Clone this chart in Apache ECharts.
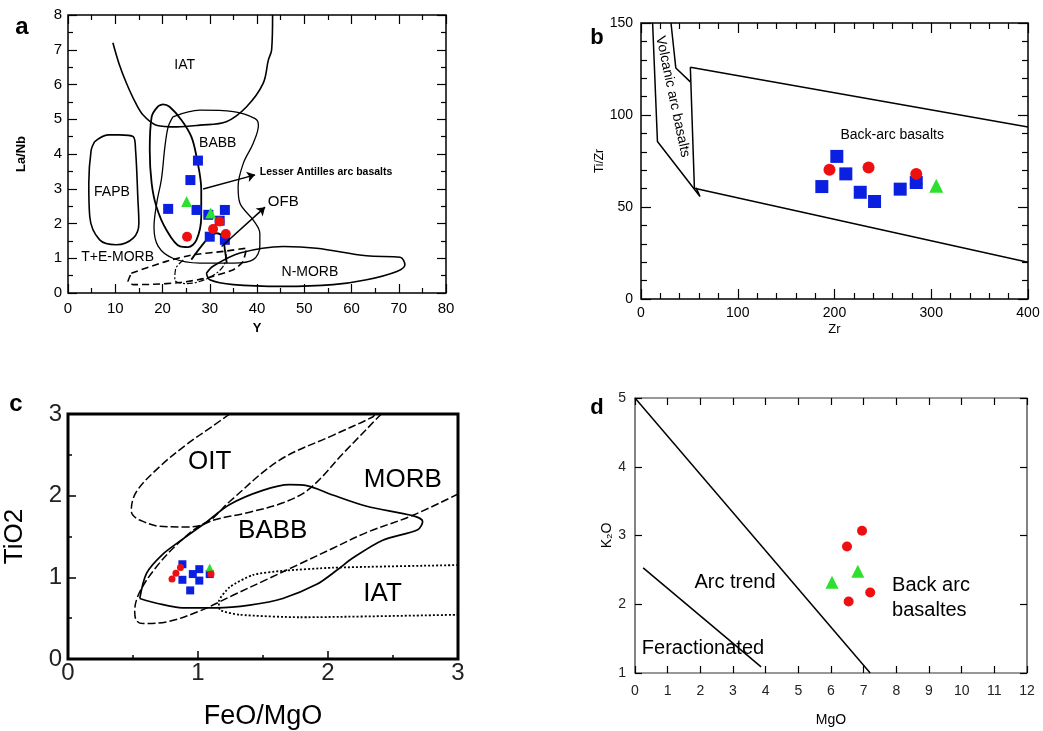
<!DOCTYPE html>
<html>
<head>
<meta charset="utf-8">
<script src="https://cdn.jsdelivr.net/npm/echarts@6/dist/echarts.min.js"></script>
<style>
  html, body { margin: 0; padding: 0; background: #fff; }
  #chart { width: 1043px; height: 731px; }
</style>
</head>
<body>
<div id="chart"></div>
<script>
// ---------- panel a : La/Nb vs Y ----------
const aSquares = [[27.5, 3.81], [25.9, 3.25], [21.2, 2.42], [27.2, 2.39], [29.7, 2.25], [33.2, 2.39], [32.1, 2.08], [30.0, 1.62], [33.2, 1.53]];
const aCircles = [[25.2, 1.62], [30.7, 1.84], [32.1, 2.06], [33.4, 1.70]];
const aTriangles = [[25.1, 2.63], [30.2, 2.30]];
const aIAT = [[9.5, 7.2], [10.8, 6.6], [12.4, 6.03], [14.2, 5.5], [15.9, 5.12], [18.7, 4.83], [23, 4.78], [27.9, 4.83], [33.5, 4.93], [37.8, 5.36], [41.3, 6.03], [42.4, 6.7], [43.1, 7.0], [43.3, 8]];
const aLesser = [[19.1, 5.38], [17.7, 5.07], [17.3, 4.11], [17.7, 3.16], [18.7, 2.49], [20.8, 1.82], [23.7, 1.34], [25.4, 1.32], [27.2, 1.53], [28.2, 2.2], [28.2, 2.97], [27.2, 3.92], [26.1, 4.5], [24, 4.98], [21.5, 5.36], [20.1, 5.43], [19.1, 5.38]];
const aBABB = [[22.2, 5.07], [27.9, 5.26], [35, 5.22], [39.6, 5.02], [40.3, 4.83], [39.2, 4.31], [37.1, 3.73], [36, 3.06], [36.4, 2.58], [39.2, 2.1], [40.6, 1.72], [40.6, 1.34], [39.2, 0.96], [35, 0.86], [27.9, 0.86], [22.2, 1.0], [19.1, 1.34], [18.2, 1.9], [18.8, 2.6], [19.8, 3.3], [20.5, 4.2], [21.2, 4.78], [22.2, 5.07]];
const aFAPB = [[5.6, 4.35], [8.5, 4.55], [10.9, 4.55], [13.8, 4.5], [14.3, 4.11], [14.8, 2.68], [15.0, 2.01], [13.8, 1.58], [10.2, 1.39], [6.7, 1.53], [4.6, 2.2], [4.4, 3.16], [4.9, 4.11], [5.6, 4.35]];
const aNMORB = [[29.3, 0.57], [30.7, 0.77], [36.4, 1.15], [45.6, 1.34], [52.6, 1.29], [63.2, 1.07], [70.3, 1.03], [71.3, 0.81], [69.6, 0.62], [63.2, 0.38], [56.1, 0.24], [45.6, 0.19], [35, 0.24], [30, 0.38], [29.3, 0.57]];
const aTEMORB = [[13.4, 0.57], [20.8, 0.91], [26.5, 1.10], [33, 1.2], [37.8, 1.29], [37, 0.9], [35, 0.67], [29.3, 0.43], [23.7, 0.3], [18, 0.25], [13.8, 0.24], [12.7, 0.33], [13.4, 0.57]];
const aOFBField = [[24.4, 0.95], [22.8, 0.7], [22.6, 0.38], [25.1, 0.27], [30, 0.45], [33, 0.8], [33.5, 1.19]];
const aOFBHump = [[26.1, 0.96], [27.9, 1.29], [29.7, 1.58], [31.4, 1.72], [32.7, 1.61], [33.2, 1.24], [33.6, 0.86]];
const aArrows = [[[28.6, 2.99], [39.6, 3.40]], [[32.5, 1.34], [41.7, 2.47]]];
const aLabels = [['IAT', 24.7, 6.55], ['BABB', 31.7, 4.32], ['Lesser Antilles arc basalts', 40.6, 3.48], ['OFB', 42.3, 2.62], ['FAPB', 9.3, 2.91], ['T+E-MORB', 10.5, 1.04], ['N-MORB', 51.2, 0.61]];

// ---------- panel b : Ti/Zr vs Zr ----------
const bSquares = [[186.9, 61.1], [202.4, 77.5], [211.7, 68.0], [226.6, 58.0], [241.4, 53.0], [267.9, 59.7], [284.5, 63.3]];
const bCircles = [[194.8, 70.2], [235.2, 71.5], [284.5, 68.0]];
const bTriangles = [[284.5, 66.0], [305.2, 61.5]];
const bArcLeft = [[12, 150], [17, 85.6], [61, 55.7], [57, 60.5]];
const bArcRight = [[31, 150], [36, 125.5], [51, 118]];
const bBackUpper = [[51, 126], [400, 93.5]];
const bBackLower = [[51, 126], [55.2, 60.2], [400, 20]];
const bLabels = [['Volcanic arc basalts', 32.8, 110], ['Back-arc basalts', 259.6, 89.1]];

// ---------- panel c : TiO2 vs FeO/MgO ----------
const cSquares = [[0.88, 1.16], [1.01, 1.10], [0.96, 1.04], [0.88, 0.97], [1.01, 0.96], [0.94, 0.84], [1.09, 1.04]];
const cCircles = [[0.865, 1.12], [0.83, 1.05], [0.80, 0.98], [1.10, 1.04]];
const cTriangles = [[1.09, 1.12]];
const cOIT = [[1.244, 3.0], [1.115, 2.854], [0.91, 2.624], [0.705, 2.355], [0.526, 2.048], [0.487, 1.817], [0.5, 1.76], [0.551, 1.702], [0.705, 1.625], [0.91, 1.617], [1.064, 1.663], [1.244, 1.929], [1.628, 2.436], [2.038, 2.739], [2.346, 2.966], [2.359, 3.0]];
const cMORB = [[2.41, 3.0], [2.13, 2.54], [1.859, 2.086], [1.654, 1.913], [1.397, 1.798], [1.052, 1.662], [0.859, 1.433], [0.679, 1.126], [0.551, 0.818], [0.513, 0.588], [0.526, 0.473], [0.577, 0.434], [0.756, 0.453], [1.013, 0.588], [1.269, 0.78], [1.526, 0.972], [1.782, 1.164], [2.038, 1.356], [2.295, 1.548], [2.654, 1.76], [3.0, 2.02]];
const cBABB = [[0.552, 0.741], [0.605, 1.052], [0.728, 1.282], [0.882, 1.467], [1.052, 1.662], [1.244, 1.892], [1.498, 2.065], [1.705, 2.134], [1.836, 2.123], [2.036, 2.008], [2.298, 1.87], [2.651, 1.755], [2.728, 1.685], [2.69, 1.582], [2.421, 1.455], [2.19, 1.236], [2.067, 1.086], [1.913, 0.914], [1.652, 0.741], [1.398, 0.66], [1.144, 0.626], [0.882, 0.626], [0.682, 0.683], [0.552, 0.741]];
const cIAT = [[3.0, 1.15], [2.038, 1.118], [1.654, 1.08], [1.423, 1.03], [1.244, 0.88], [1.16, 0.70], [1.17, 0.6], [1.321, 0.542], [1.782, 0.511], [3.0, 0.542]];
const cLabels = [['OIT', 1.09, 2.41], ['MORB', 2.575, 2.20], ['BABB', 1.575, 1.57], ['IAT', 2.42, 0.80]];

// ---------- panel d : K2O vs MgO ----------
const dCircles = [[6.95, 3.07], [6.49, 2.84], [6.54, 2.04], [7.2, 2.17]];
const dTriangles = [[6.03, 2.32], [6.82, 2.48]];
const dArcTrend = [[0, 5], [7.2, 1]];
const dFractionated = [[0.25, 2.53], [3.86, 1.09]];
const dLabels = [['Arc trend', 3.06, 2.31], ['Back arc', 7.87, 2.28], ['basaltes', 7.87, 1.91], ['Feractionated', 0.21, 1.35]];

const FONT = '"Liberation Sans", Arial, sans-serif';
const BLUE = '#0b1fe0';
const RED = '#ee1010';
const GREEN = '#2ee02e';
// bottom/left axis index of each panel
const AX = [0, 2, 4, 5];

function valAxis(grid, pos, min, max, step, o) {
  return {
    type: 'value', gridIndex: grid, position: pos, min: min, max: max, interval: step,
    axisLine: { show: false, onZero: false },
    splitLine: { show: false },
    axisTick: { show: true, inside: true, length: o.tickLen, lineStyle: { color: '#000', width: o.tickW || 1.2 } },
    minorTick: { show: !!o.minor, splitNumber: o.minor || 1, length: o.minorLen || 0, lineStyle: { color: '#000', width: o.tickW || 1.2 } },
    axisLabel: { show: !!o.label, margin: o.margin, fontSize: o.fontSize, color: o.labelColor || '#000', fontFamily: FONT },
    name: o.name || '', nameLocation: 'middle', nameGap: o.nameGap,
    nameTextStyle: { fontSize: o.nameSize, fontWeight: o.nameWeight || 'normal', color: '#000', fontFamily: FONT }
  };
}

function curve(p, data, style) {
  return {
    type: 'line', xAxisIndex: AX[p], yAxisIndex: AX[p], data: data, showSymbol: false, symbol: 'none',
    smooth: style.smooth === undefined ? 0.35 : style.smooth, silent: true, z: 2,
    lineStyle: { color: '#000', width: style.width || 1.6, type: style.type || 'solid' }
  };
}

function points(p, data, symbol, size, color, z) {
  return {
    type: 'scatter', xAxisIndex: AX[p], yAxisIndex: AX[p], data: data, symbol: symbol,
    symbolSize: size, itemStyle: { color: color, opacity: 1 }, silent: true, z: z
  };
}

function labels(p, list, fontSize, special, extra) {
  return Object.assign({
    type: 'scatter', xAxisIndex: AX[p], yAxisIndex: AX[p], symbolSize: 1, silent: true, z: 5,
    itemStyle: { color: 'rgba(0,0,0,0)' },
    data: list.map(function (l) {
      return { name: l[0], value: [l[1], l[2]], label: Object.assign({ align: 'center' }, special[l[0]] || {}) };
    }),
    label: {
      show: true, position: 'inside', formatter: function (q) { return q.name; },
      fontSize: fontSize, color: '#000', opacity: 1, textBorderWidth: 0, fontFamily: FONT, verticalAlign: 'middle'
    }
  }, extra || {});
}

const chart = echarts.init(document.getElementById('chart'));

const option = {
  animation: false,
  backgroundColor: '#fff',
  grid: [
    { left: 68, top: 15, width: 378, height: 278, show: true, borderColor: '#000', borderWidth: 1.5, backgroundColor: 'transparent' },
    { left: 641, top: 23, width: 387, height: 276, show: true, borderColor: '#000', borderWidth: 1.5, backgroundColor: 'transparent' },
    { left: 68, top: 414, width: 390, height: 260, show: true, borderColor: '#000', borderWidth: 3, backgroundColor: 'transparent' },
    { left: 635, top: 398, width: 392, height: 275, show: true, borderColor: '#333', borderWidth: 1.2, backgroundColor: 'transparent' }
  ],
  xAxis: [
    valAxis(0, 'bottom', 0, 80, 10, { tickLen: 9, minor: 2, minorLen: 5, label: true, margin: 8, fontSize: 15, name: 'Y', nameGap: 29, nameSize: 13, nameWeight: 'bold' }),
    valAxis(0, 'top', 0, 80, 10, { tickLen: 9, minor: 2, minorLen: 5 }),
    valAxis(1, 'bottom', 0, 400, 100, { tickLen: 10, minor: 5, minorLen: 6, label: true, margin: 7, fontSize: 14, name: 'Zr', nameGap: 24, nameSize: 13 }),
    valAxis(1, 'top', 0, 400, 100, { tickLen: 10, minor: 5, minorLen: 6 }),
    valAxis(2, 'bottom', 0, 3, 1, { tickLen: 8, minor: 2, minorLen: 4, label: true, margin: 2, fontSize: 24, labelColor: '#222', name: 'FeO/MgO', nameGap: 44, nameSize: 27, tickW: 1.5 }),
    valAxis(3, 'bottom', 0, 12, 1, { tickLen: 7, label: true, margin: 11, fontSize: 14, labelColor: '#222', name: 'MgO', nameGap: 40, nameSize: 14 }),
    valAxis(3, 'top', 0, 12, 1, { tickLen: 7 })
  ],
  yAxis: [
    valAxis(0, 'left', 0, 8, 1, { tickLen: 9, minor: 2, minorLen: 5, label: true, margin: 6, fontSize: 15, name: 'La/Nb', nameGap: 40, nameSize: 13, nameWeight: 'bold' }),
    valAxis(0, 'right', 0, 8, 1, { tickLen: 9, minor: 2, minorLen: 5 }),
    valAxis(1, 'left', 0, 150, 50, { tickLen: 10, minor: 5, minorLen: 6, label: true, margin: 8, fontSize: 14, name: 'Ti/Zr', nameGap: 30, nameSize: 12 }),
    valAxis(1, 'right', 0, 150, 50, { tickLen: 10, minor: 5, minorLen: 6 }),
    valAxis(2, 'left', 0, 3, 1, { tickLen: 8, minor: 2, minorLen: 4, label: true, margin: 6, fontSize: 24, labelColor: '#222', name: 'TiO2', nameGap: 40, nameSize: 26, tickW: 1.5 }),
    valAxis(3, 'left', 1, 5, 1, { tickLen: 7, label: true, margin: 9, fontSize: 14, labelColor: '#222', name: 'K\u2082O', nameGap: 20, nameSize: 14 }),
    valAxis(3, 'right', 1, 5, 1, { tickLen: 7 })
  ],
  graphic: [
    { type: 'text', x: 22, y: 27, style: { text: 'a', font: 'bold 24px ' + FONT, fill: '#000', textAlign: 'center', textVerticalAlign: 'middle' } },
    { type: 'text', x: 597, y: 38, style: { text: 'b', font: 'bold 22px ' + FONT, fill: '#000', textAlign: 'center', textVerticalAlign: 'middle' } },
    { type: 'text', x: 16, y: 404, style: { text: 'c', font: 'bold 24px ' + FONT, fill: '#000', textAlign: 'center', textVerticalAlign: 'middle' } },
    { type: 'text', x: 597, y: 408, style: { text: 'd', font: 'bold 22px ' + FONT, fill: '#000', textAlign: 'center', textVerticalAlign: 'middle' } }
  ],
  series: [
    // panel a fields
    curve(0, aIAT, {}),
    curve(0, aLesser, { width: 1.8 }),
    curve(0, aBABB, { width: 1.3 }),
    curve(0, aFAPB, {}),
    curve(0, aNMORB, {}),
    curve(0, aTEMORB, { type: [7, 4], smooth: 0.2 }),
    curve(0, aOFBField, { type: [6, 2, 2, 2], width: 1.2 }),
    curve(0, aOFBHump, { width: 1.8 }),
    points(0, aSquares, 'rect', 10, BLUE, 3),
    points(0, aTriangles, 'triangle', 11, GREEN, 4),
    points(0, aCircles, 'circle', 10, RED, 4),
    labels(0, aLabels, 14, {
      'Lesser Antilles arc basalts': { align: 'left', fontSize: 10.5, fontWeight: 'bold' },
      'OFB': { align: 'left', fontSize: 15 },
      'T+E-MORB': { fontSize: 14 }
    }, {
      markLine: {
        silent: true, symbol: ['none', 'arrow'], symbolSize: 8, label: { show: false },
        lineStyle: { type: 'solid', color: '#000', width: 1.5 },
        data: aArrows.map(function (a) { return [{ coord: a[0] }, { coord: a[1] }]; })
      }
    }),
    // panel b
    curve(1, bArcLeft, { smooth: false, width: 1.5 }),
    curve(1, bArcRight, { smooth: false, width: 1.5 }),
    curve(1, bBackUpper, { smooth: false, width: 1.5 }),
    curve(1, bBackLower, { smooth: false, width: 1.5 }),
    points(1, bTriangles, 'triangle', 14, GREEN, 3),
    points(1, bSquares, 'rect', 13, BLUE, 4),
    points(1, bCircles, 'circle', 12, RED, 5),
    labels(1, bLabels, 14, { 'Volcanic arc basalts': { rotate: -78 } }),
    // panel c
    curve(2, cOIT, { type: [8, 3], width: 1.5 }),
    curve(2, cMORB, { type: [8, 3], width: 1.5 }),
    curve(2, cBABB, { width: 1.7, smooth: 0.3 }),
    curve(2, cIAT, { type: [2, 2], width: 1.8, smooth: 0.2 }),
    points(2, cSquares, 'rect', 8, BLUE, 3),
    points(2, cTriangles, 'triangle', 8, GREEN, 4),
    points(2, cCircles, 'circle', 7, RED, 5),
    labels(2, cLabels, 26, {}),
    // panel d
    curve(3, dArcTrend, { smooth: false, width: 1.5 }),
    curve(3, dFractionated, { smooth: false, width: 1.5 }),
    points(3, dTriangles, 'triangle', 13, GREEN, 3),
    points(3, dCircles, 'circle', 10, RED, 4),
    labels(3, dLabels, 20, { 'Back arc': { align: 'left' }, 'basaltes': { align: 'left' }, 'Feractionated': { align: 'left' } })
  ]
};

chart.setOption(option);
</script>
</body>
</html>
